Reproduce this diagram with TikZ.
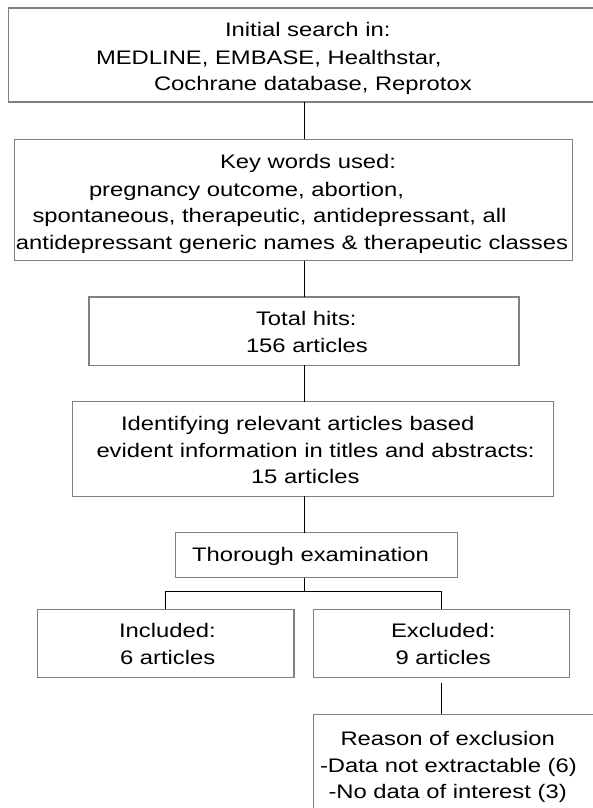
\documentclass[tikz,border=0pt]{standalone}
\usepackage{fontspec}
\setmainfont{Liberation Sans}[FakeStretch=1.215]
\definecolor{bordergray}{RGB}{128,128,128}
\tikzset{
  box/.style={draw=bordergray, line width=1.3pt, rectangle, inner sep=0pt, outer sep=0pt, anchor=north west},
  txt/.style={anchor=base west, inner sep=0pt, outer sep=0pt, font=\fontsize{19.6}{26.7}\selectfont, text=black},
  conn/.style={draw=black, line width=1pt}
}
\begin{document}
\begin{tikzpicture}[x=1pt, y=-1pt]
\useasboundingbox (0,0) rectangle (592,808);
% boxes
\node[box, minimum width=590pt, minimum height=94pt]   (b1) at (8.7,8) {};
\node[box, minimum width=558.4pt, minimum height=121.4pt] (b2) at (14.3,139.3) {};
\node[box, minimum width=430pt, minimum height=68.3pt] (b3) at (89,297) {};
\node[box, minimum width=481.3pt, minimum height=94.6pt] (b4) at (72.4,401.7) {};
\node[box, minimum width=282pt, minimum height=44.8pt] (b5) at (175.6,532.7) {};
\node[box, minimum width=256.3pt, minimum height=68.4pt] (inc) at (37.6,609.3) {};
\node[box, minimum width=256pt, minimum height=68.4pt] (exc) at (313.3,609.3) {};
\node[box, minimum width=290pt, minimum height=110pt] (rea) at (313.3,714.3) {};
% spine and junction
\coordinate (spine) at (304.3,0);
\coordinate (split) at (304.3,591.7);
% connectors
\draw[conn] (spine |- b1.south) -- (spine |- b2.north);
\draw[conn] (spine |- b2.south) -- (spine |- b3.north);
\draw[conn] (spine |- b3.south) -- (spine |- b4.north);
\draw[conn] (spine |- b4.south) -- (spine |- b5.north);
\draw[conn] (spine |- b5.south) -- (split);
\draw[conn] (split) -| (inc.north);
\draw[conn] (split) -| (exc.north);
\draw[conn] ([yshift=-5.6pt]exc.south) -- (exc.south |- rea.north);
% texts
\node[txt] (t11) at (225,36.7) {Initial search in:};
\node[txt] (t12) at (96,64.3) {MEDLINE, EMBASE, Healthstar,};
\node[txt] (t13) at (154,90.7) {Cochrane database, Reprotox};
\node[txt] (t21) at (220,168.3) {Key words used:};
\node[txt] (t22) at (89,196) {pregnancy outcome, abortion,};
\node[txt] (t23) at (32.5,222.7) {spontaneous, therapeutic, antidepressant, all};
\node[txt] (t24) at (16,249.3) {antidepressant generic names \& therapeutic classes};
\node[txt] (t31) at (256,325.7) {Total hits:};
\node[txt] (t32) at (246,352.3) {156 articles};
\node[txt] (t41) at (121,430.7) {Identifying relevant articles based};
\node[txt] (t42) at (96.5,457.3) {evident information in titles and abstracts:};
\node[txt] (t43) at (251,483.5) {15 articles};
\node[txt] (t51) at (192,561) {Thorough examination};
\node[txt] (t61) at (119,637.5) {Included:};
\node[txt] (t62) at (120,664.5) {6 articles};
\node[txt] (t71) at (391,637.5) {Excluded:};
\node[txt] (t72) at (395.5,664.5) {9 articles};
\node[txt] (t81) at (340.5,745.5) {Reason of exclusion};
\node[txt] (t82) at (320,772) {-Data not extractable (6)};
\node[txt] (t83) at (328.5,798.5) {-No data of interest (3)};
\end{tikzpicture}
\end{document}
